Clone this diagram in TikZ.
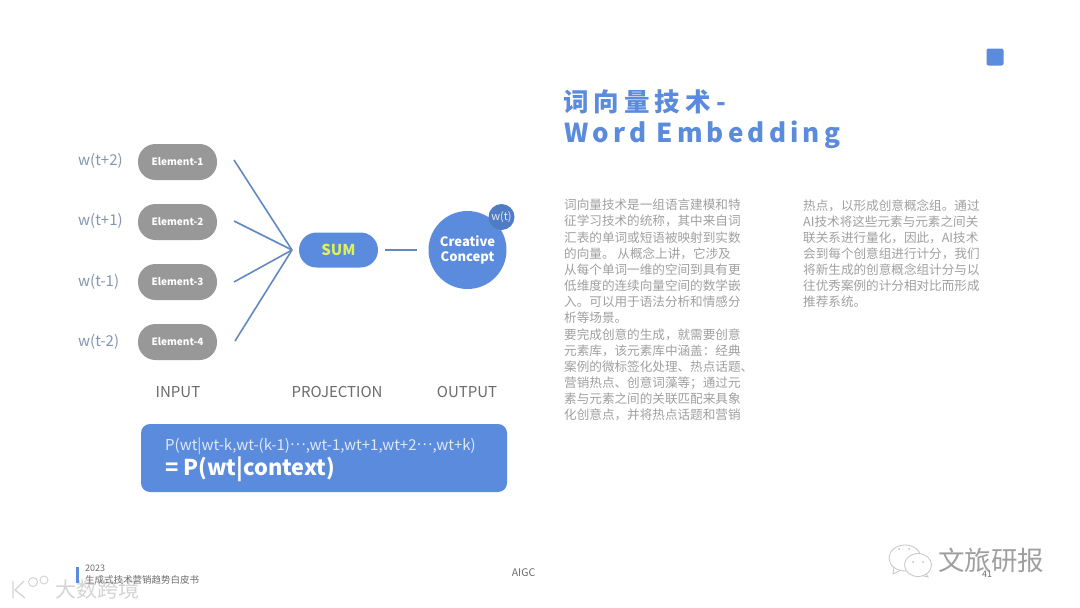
\documentclass[tikz,border=0pt]{standalone}
\usepackage{fontspec}
\setmainfont{Noto Sans CJK SC}
\newfontfamily\cjk{Noto Sans CJK SC}
\newfontfamily\titlecjk{Noto Sans CJK SC}[LetterSpace=20]
\newfontfamily\latspaced{Noto Sans CJK SC}[LetterSpace=16]
\newcommand{\middots}{\raisebox{.3em}{…}}
\definecolor{blueA}{HTML}{5B8BDC}
\definecolor{blueB}{HTML}{4F7CC4}
\definecolor{lineblue}{HTML}{6389C2}
\definecolor{wgray}{HTML}{8496B0}
\definecolor{pillgray}{HTML}{989898}
\definecolor{labgray}{HTML}{6B6B6B}
\definecolor{bodygray}{HTML}{A0A0A0}
\definecolor{markgray}{HTML}{D4D4D4}
\tikzset{
  elem/.style={draw=none,fill=pillgray,rounded corners=17.5pt,minimum width=79pt,minimum height=36pt,inner sep=0pt,text=white,font=\fontsize{10}{10}\selectfont\bfseries},
  wlab/.style={anchor=west,inner sep=0pt,text=wgray,font=\fontsize{15}{15}\selectfont},
  collab/.style={anchor=center,text=labgray,font=\fontsize{15}{15}\selectfont},
  conn/.style={draw=lineblue,line width=1.6pt},
  bodytext/.style={anchor=north west,text=bodygray,inner sep=0pt,align=left,font=\fontsize{12.6}{16.15}\selectfont\cjk},
  wmark/.style={anchor=center,text=markgray,inner sep=0pt}
}
\begin{document}
\begin{tikzpicture}[x=1pt,y=-1pt]
\useasboundingbox (0,0) rectangle (1080,608);
\fill[white] (0,0) rectangle (1080,608);
% corner square
\node[fill=blueA,rounded corners=2pt,minimum size=17pt,inner sep=0pt] (sq) at (995,57) {};
% title
\node[anchor=west,text=blueA,inner sep=0pt,font=\fontsize{25.5}{25.5}\selectfont\titlecjk\bfseries] (t1) at (563,102) {词向量技术-};
\node[anchor=west,text=blueA,inner sep=0pt,font=\fontsize{26}{26}\selectfont\latspaced\bfseries] (t2) at (564,135) {Word Embedding};
% left labels
\node[wlab] (w1) at (78,161) {w(t+2)};
\node[wlab] (w2) at (78,221) {w(t+1)};
\node[wlab] (w3) at (78,282) {w(t-1)};
\node[wlab] (w4) at (78,342) {w(t-2)};
% elements
\node[elem] (e1) at (177.5,162) {Element-1};
\node[elem] (e2) at (177.5,222) {Element-2};
\node[elem] (e3) at (177.5,282) {Element-3};
\node[elem] (e4) at (177.5,342) {Element-4};
% sum
\node[fill=blueA,rounded corners=17.5pt,minimum width=79pt,minimum height=35pt,inner sep=0pt,text={rgb,255:red,222;green,240;blue,90},font=\fontsize{15}{15}\selectfont\bfseries] (sum) at (338.5,250) {SUM};
\coordinate (in) at (292,250);
\coordinate (s1) at (234,160);
\coordinate (s2) at (234,221);
\coordinate (s3) at (234,282);
\coordinate (s4) at (235,341);
\draw[conn] (s1) -- (in);
\draw[conn] (s2) -- (in);
\draw[conn] (s3) -- (in);
\draw[conn] (s4) -- (in);
% output
\node[circle,fill=blueA,minimum size=78pt,inner sep=0pt,text=white,align=center,font=\fontsize{13}{15}\selectfont\bfseries] (cc) at (467.5,250) {Creative\\Concept};
\node[circle,fill=blueB,minimum size=26pt,inner sep=0pt,text=white!85!blueB,font=\fontsize{11}{11}\selectfont] (wt) at (501.5,217) {w(t)};
\draw[conn,shorten <=7pt,shorten >=11pt] (sum.east) -- (cc.west);
% column labels
\node[collab] (inp) at (178,392) {INPUT};
\node[collab] (proj) at (337,392) {PROJECTION};
\node[collab] (outp) at (467,392) {OUTPUT};
% formula
\node[fill=blueA,rounded corners=9pt,minimum width=366pt,minimum height=68pt,inner sep=0pt] (fb) at (324,458) {};
\node[anchor=west,text=white!80!blueA,inner sep=0pt,font=\fontsize{15}{15}\selectfont] (f1) at (165,446) {P(wt|wt-k,wt-(k-1)\middots,wt-1,wt+1,wt+2\middots,wt+k)};
\node[anchor=west,text=white,inner sep=0pt,font=\fontsize{21.8}{21.8}\selectfont\bfseries] (f2) at (165,469) {= P(wt|context)};
% body text
\node[bodytext] (b1) at (564,199) {词向量技术是一组语言建模和特\\征学习技术的统称，其中来自词\\汇表的单词或短语被映射到实数\\的向量。 从概念上讲，它涉及\\从每个单词一维的空间到具有更\\低维度的连续向量空间的数学嵌\\入。可以用于语法分析和情感分\\析等场景。\\要完成创意的生成，就需要创意\\元素库，该元素库中涵盖：经典\\案例的微标签化处理、热点话题、\\营销热点、创意词藻等；通过元\\素与元素之间的关联匹配来具象\\化创意点，并将热点话题和营销};
\node[bodytext] (b2) at (803,199) {热点，以形成创意概念组。通过\\AI技术将这些元素与元素之间关\\联关系进行量化，因此，AI技术\\会到每个创意组进行计分，我们\\将新生成的创意概念组计分与以\\往优秀案例的计分相对比而形成\\推荐系统。};
% footer watermark first, beneath the footer text
\node[wmark,font=\fontsize{21}{21}\selectfont\cjk] (wm1) at (98,589) {大数跨境};
\draw[markgray,line width=1.3pt] (13,581) -- (13,598) (24,581) -- (15,590) -- (25,598);
\draw[markgray,line width=1pt] (33,582) circle (4.5pt) (44,580) circle (4pt);
% footer
\node[fill=blueA,minimum width=2.5pt,minimum height=16pt,inner sep=0pt] (fbar) at (77.5,575) {};
\node[anchor=west,text=labgray,inner sep=0pt,font=\fontsize{9}{9}\selectfont] (fy) at (85,568.5) {2023};
\node[anchor=west,text=labgray,inner sep=0pt,font=\fontsize{9.5}{9.5}\selectfont] (fs) at (85,580) {生成式技术营销趋势白皮书};
\node[text=labgray,inner sep=0pt,font=\fontsize{10.5}{10.5}\selectfont] (aigc) at (523.5,573) {AIGC};
% wechat-like mark
\draw[gray!45,line width=.8pt,fill=white] (905,558) ellipse (16pt and 13pt);
\draw[gray!45,line width=.8pt] (894,567) -- (893,574) -- (901,570);
\draw[gray!45,line width=.8pt,fill=white] (918,565) ellipse (13.5pt and 11.5pt);
\draw[gray!45,line width=.8pt] (926,574) -- (928,577) -- (922,575.5);
\fill[gray!50] (899,549) circle (1pt) (909,549) circle (1pt) (913,562) circle (1pt) (923,562) circle (1pt);
\node[anchor=west,text=gray!75,inner sep=0pt,font=\fontsize{26.5}{26.5}\selectfont\cjk] (wm2) at (938,560) {文旅研报};
\node[text=labgray,inner sep=0pt,font=\fontsize{9}{9}\selectfont] (pg) at (987,574) {41};
\end{tikzpicture}
\end{document}
